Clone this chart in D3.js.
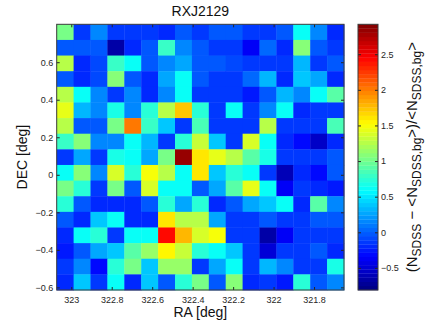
<!DOCTYPE html>
<html>
<head>
<meta charset="utf-8">
<script src="https://d3js.org/d3.v7.min.js"></script>
<style>
  body { margin: 0; background: #fff; }
  svg { font-family: "Liberation Sans", Arial, sans-serif; }
</style>
</head>
<body>
<svg id="chart" width="436" height="328"></svg>
<script>
// sky extent of the map (RA runs right to left)
var raRange = [323.072, 321.652];
var decRange = [-0.614, 0.802];

var raTicks = [323, 322.8, 322.6, 322.4, 322.2, 322, 321.8];
var decTicks = [-0.6, -0.4, -0.2, 0, 0.2, 0.4, 0.6];
var cbTicks = [-0.5, 0, 0.5, 1, 1.5, 2, 2.5];
var cbRange = [-0.81, 2.92];

// overdensity, rows from top (high DEC) to bottom, columns left (high RA) to right
var density = [
  [1.05,-0.15,0.18,-0.15,-0.15,-0.15,-0.18,0.0,-0.15,-0.05,-0.05,-0.15,-0.15,0.0,0.6,0.18,-0.2],
  [0.0,-0.02,-0.02,-0.65,-0.2,0.0,0.78,0.18,0.0,-0.12,-0.12,-0.4,0.02,-0.2,1.1,0.0,-0.12],
  [1.28,-0.18,-0.08,0.82,0.6,0.0,0.18,0.25,-0.02,-0.02,-0.1,-0.12,-0.15,-0.12,0.35,-0.15,0.0],
  [0.0,-0.2,-0.1,1.1,0.0,-0.2,0.27,0.6,0.0,-0.15,-0.15,0.02,0.3,-0.18,0.38,0.27,-0.22],
  [1.25,0.62,0.18,-0.15,0.18,-0.2,0.18,0.62,-0.15,-0.15,-0.15,-0.28,0.0,0.3,0.18,0.6,0.92],
  [1.45,0.3,0.18,0.65,0.18,0.75,1.28,1.75,0.75,-0.15,0.6,-0.15,0.18,0.62,-0.2,-0.15,-0.15],
  [1.28,0.0,-0.02,1.05,2.0,0.82,0.38,-0.15,0.88,-0.15,-0.15,-0.12,1.25,-0.15,-0.12,-0.12,0.88],
  [0.8,1.08,0.18,0.18,0.6,0.3,-0.15,0.75,1.32,0.38,-0.15,1.38,0.62,-0.2,-0.3,-0.55,-0.18],
  [-0.15,0.27,-0.15,0.65,0.6,0.27,1.05,2.85,1.6,1.45,1.25,0.9,0.68,-0.15,-0.15,-0.15,0.0],
  [0.62,1.08,0.18,1.4,0.75,1.48,1.25,0.62,1.6,0.38,0.72,0.62,-0.15,-0.6,-0.18,-0.3,0.0],
  [1.05,0.72,-0.15,1.05,0.0,1.38,0.6,0.62,0.0,0.27,0.92,1.42,0.62,-0.38,-0.15,-0.18,-0.28],
  [0.72,0.0,-0.18,-0.18,-0.18,-0.03,0.72,0.27,0.72,-0.2,0.0,0.27,0.38,0.62,-0.2,0.92,0.18],
  [0.0,-0.2,0.38,0.6,-0.2,-0.18,1.6,1.25,1.25,0.27,-0.15,-0.15,0.0,-0.12,-0.12,-0.02,-0.02],
  [-0.18,0.6,0.72,-0.15,0.6,0.6,2.45,1.78,1.4,1.48,-0.15,-0.15,-0.65,-0.4,-0.15,-0.15,-0.15],
  [-0.25,-0.05,0.27,0.38,0.9,1.12,1.55,1.3,0.72,0.62,0.38,-0.15,-0.5,-0.15,-0.15,0.0,-0.18],
  [-0.15,0.18,-0.3,0.72,1.05,0.38,1.12,1.12,-0.15,0.27,0.62,-0.15,0.3,0.18,-0.15,-0.15,0.65],
  [-0.18,0.38,-0.15,0.6,-0.18,0.38,0.0,0.72,1.05,0.0,1.08,-0.18,-0.15,-0.25,0.72,0.0,0.18]
];

var svg = d3.select("#chart");
var pLeft = 56.7, pRight = 344, pTop = 24.3, pBottom = 290;
var nRows = density.length, nCols = density[0].length;

var x = d3.scaleLinear().domain(raRange).range([pLeft, pRight]);
var y = d3.scaleLinear().domain(decRange).range([pBottom, pTop]);

// matlab style jet, 64 levels
function jet(t) {
  var c = function(v) { return Math.max(0, Math.min(1, v)); };
  var r = c(1.5 - Math.abs(4 * t - 3)), g = c(1.5 - Math.abs(4 * t - 2)), b = c(1.5 - Math.abs(4 * t - 1));
  return d3.rgb(r * 255, g * 255, b * 255).toString();
}
var level = d3.scaleQuantize().domain(cbRange).range(d3.range(64));
function color(v) { return jet((level(v) + 0.5) / 64); }

var raStep = (raRange[1] - raRange[0]) / nCols;
var decStep = (decRange[1] - decRange[0]) / nRows;

var cells = [];
density.forEach(function(row, i) {
  row.forEach(function(v, j) {
    cells.push({ ra0: raRange[0] + j * raStep, ra1: raRange[0] + (j + 1) * raStep,
                 dec0: decRange[1] - (i + 1) * decStep, dec1: decRange[1] - i * decStep, v: v });
  });
});

svg.append("g").selectAll("rect")
  .data(cells)
  .enter().append("rect")
  .attr("x", function(d) { return x(d.ra0); })
  .attr("y", function(d) { return y(d.dec1); })
  .attr("width", function(d) { return x(d.ra1) - x(d.ra0) + 0.4; })
  .attr("height", function(d) { return y(d.dec0) - y(d.dec1) + 0.4; })
  .attr("fill", function(d) { return color(d.v); });

var fmt = function(d) { return d3.format("")(d).replace("-", "\u2212"); };

function styleAxis(g) {
  g.select(".domain").remove();
  g.selectAll(".tick line").attr("stroke", "#262626");
  g.selectAll("text").attr("fill", "#262626").attr("font-size", 9);
}

svg.append("g").attr("transform", "translate(0," + pBottom + ")")
  .call(d3.axisBottom(x).tickValues(raTicks).tickSize(-3).tickPadding(7).tickFormat(fmt))
  .call(styleAxis);
svg.append("g").attr("transform", "translate(0," + pTop + ")")
  .call(d3.axisTop(x).tickValues(raTicks).tickSize(-3).tickFormat(""))
  .call(styleAxis);
svg.append("g").attr("transform", "translate(" + pLeft + ",0)")
  .call(d3.axisLeft(y).tickValues(decTicks).tickSize(-3).tickPadding(3.5).tickFormat(fmt))
  .call(styleAxis);
svg.append("g").attr("transform", "translate(" + pRight + ",0)")
  .call(d3.axisRight(y).tickValues(decTicks).tickSize(-3).tickFormat(""))
  .call(styleAxis);

svg.append("rect")
  .attr("x", pLeft).attr("y", pTop)
  .attr("width", pRight - pLeft).attr("height", pBottom - pTop)
  .attr("fill", "none").attr("stroke", "#3a3a3a").attr("stroke-width", 1);

svg.append("text")
  .attr("x", (pLeft + pRight) / 2).attr("y", 16)
  .attr("text-anchor", "middle").attr("font-size", 14).attr("fill", "#111")
  .text("RXJ2129");

svg.append("text")
  .attr("x", (pLeft + pRight) / 2).attr("y", 317)
  .attr("text-anchor", "middle").attr("font-size", 14).attr("fill", "#111")
  .text("RA [deg]");

svg.append("text")
  .attr("transform", "translate(27," + (pTop + pBottom) / 2 + ") rotate(-90)")
  .attr("text-anchor", "middle").attr("font-size", 14).attr("fill", "#111")
  .text("DEC [deg]");

// colorbar
var cbLeft = 358, cbRight = 378;
var cy = d3.scaleLinear().domain(cbRange).range([pBottom, pTop]);
var bandH = (pBottom - pTop) / 64;
svg.append("g").selectAll("rect")
  .data(d3.range(64))
  .enter().append("rect")
  .attr("x", cbLeft)
  .attr("y", function(i) { return pBottom - (i + 1) * bandH; })
  .attr("width", cbRight - cbLeft)
  .attr("height", bandH + 0.3)
  .attr("fill", function(i) { return jet((i + 0.5) / 64); });

svg.append("g").attr("transform", "translate(" + cbRight + ",0)")
  .call(d3.axisRight(cy).tickValues(cbTicks).tickSize(-3).tickPadding(3).tickFormat(fmt))
  .call(styleAxis);
svg.append("g").attr("transform", "translate(" + cbLeft + ",0)")
  .call(d3.axisLeft(cy).tickValues(cbTicks).tickSize(-3).tickFormat(""))
  .call(styleAxis);
svg.append("rect")
  .attr("x", cbLeft).attr("y", pTop)
  .attr("width", cbRight - cbLeft).attr("height", pBottom - pTop)
  .attr("fill", "none").attr("stroke", "#3a3a3a").attr("stroke-width", 1);

var cbLabel = svg.append("text")
  .attr("transform", "translate(417," + (pTop + pBottom) / 2 + ") rotate(-90)")
  .attr("text-anchor", "middle").attr("font-size", 15).attr("fill", "#111");
var shift = 0;
[["(N", false], ["SDSS", true], [" \u2212 <N", false], ["SDSS,bg", true],
 [">)/<N", false], ["SDSS,bg", true], [">", false]].forEach(function(p) {
  var target = p[1] ? 4 : 0;
  cbLabel.append("tspan")
    .attr("font-size", p[1] ? 12 : 15)
    .attr("dy", target - shift)
    .text(p[0]);
  shift = target;
});
</script>
</body>
</html>
